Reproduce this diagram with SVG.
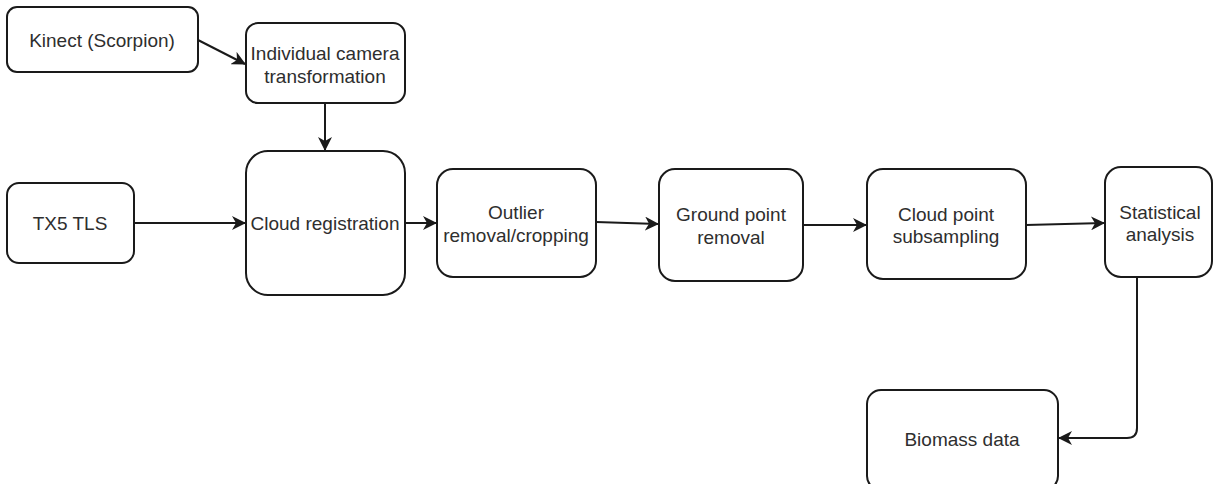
<svg xmlns="http://www.w3.org/2000/svg" width="1214" height="484" viewBox="0 0 1214 484">
  <style>
    .box { fill: #ffffff; stroke: #1a1a1a; stroke-width: 2; }
    .lbl { font-family: "Liberation Sans", Arial, sans-serif; font-size: 19px; fill: #2e2e2e; text-anchor: middle; }
    .edge { fill: none; stroke: #1a1a1a; stroke-width: 2; }
  </style>
  <defs>
    <marker id="arrow" viewBox="0 0 14 14" refX="13" refY="7" markerWidth="14" markerHeight="14" markerUnits="userSpaceOnUse" orient="auto">
      <path d="M0,0 L14,7 L0,14 L4,7 Z" fill="#1a1a1a"/>
    </marker>
  </defs>
  <rect width="1214" height="484" fill="#ffffff"/>

  <g id="connectors">
    <line class="edge" x1="198" y1="40" x2="245" y2="64" marker-end="url(#arrow)"/>
    <line class="edge" x1="325" y1="103" x2="325" y2="150" marker-end="url(#arrow)"/>
    <line class="edge" x1="134" y1="223" x2="245" y2="223" marker-end="url(#arrow)"/>
    <line class="edge" x1="405" y1="223" x2="436" y2="223" marker-end="url(#arrow)"/>
    <line class="edge" x1="596" y1="222" x2="658" y2="224" marker-end="url(#arrow)"/>
    <line class="edge" x1="803" y1="225" x2="866" y2="225" marker-end="url(#arrow)"/>
    <line class="edge" x1="1026" y1="225" x2="1104" y2="223" marker-end="url(#arrow)"/>
    <path class="edge" d="M1137,277 L1137,428 Q1137,438 1127,438 L1059,438" marker-end="url(#arrow)"/>
  </g>

  <g id="kinect">
    <rect class="box" x="7" y="7" width="191" height="65" rx="10"/>
    <text class="lbl" x="102" y="47">Kinect (Scorpion)</text>
  </g>
  <g id="camera-transform">
    <rect class="box" x="246" y="23" width="159" height="80" rx="12"/>
    <text class="lbl" x="325" y="60">Individual camera</text>
    <text class="lbl" x="325" y="83">transformation</text>
  </g>
  <g id="tx5">
    <rect class="box" x="7" y="183" width="127" height="80" rx="12"/>
    <text class="lbl" x="70" y="230">TX5 TLS</text>
  </g>
  <g id="registration">
    <rect class="box" x="246" y="151" width="159" height="144" rx="22"/>
    <text class="lbl" x="325" y="230">Cloud registration</text>
  </g>
  <g id="outlier">
    <rect class="box" x="437" y="169" width="159" height="108" rx="16"/>
    <text class="lbl" x="516" y="219">Outlier</text>
    <text class="lbl" x="516" y="242">removal/cropping</text>
  </g>
  <g id="ground">
    <rect class="box" x="659" y="169" width="144" height="112" rx="16"/>
    <text class="lbl" x="731" y="221">Ground point</text>
    <text class="lbl" x="731" y="244">removal</text>
  </g>
  <g id="subsampling">
    <rect class="box" x="867" y="169" width="159" height="110" rx="16"/>
    <text class="lbl" x="946" y="221">Cloud point</text>
    <text class="lbl" x="946" y="243">subsampling</text>
  </g>
  <g id="statistics">
    <rect class="box" x="1105" y="167" width="107" height="110" rx="16"/>
    <text class="lbl" x="1160" y="219">Statistical</text>
    <text class="lbl" x="1160" y="241">analysis</text>
  </g>
  <g id="biomass">
    <rect class="box" x="867" y="390" width="191" height="100" rx="14"/>
    <text class="lbl" x="962" y="446">Biomass data</text>
  </g>
</svg>
